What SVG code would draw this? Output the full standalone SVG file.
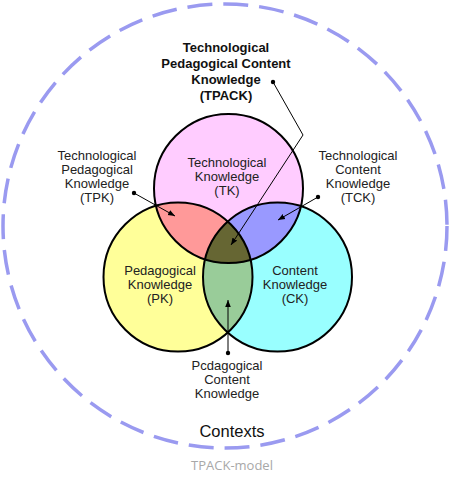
<svg xmlns="http://www.w3.org/2000/svg" width="475" height="480" viewBox="0 0 475 480">
<style>
.lbl{font-family:"Liberation Sans",Arial,sans-serif;font-size:13px;fill:#222;text-anchor:middle}
.ttl{font-family:"Liberation Sans",Arial,sans-serif;font-size:13px;font-weight:bold;fill:#111;text-anchor:middle}
.ring{fill:none;stroke:#000;stroke-width:2}
.lead{fill:none;stroke:#000;stroke-width:1}
.dot{fill:#000}
</style>
<defs>
<marker id="ah" viewBox="0 0 10 10" refX="10" refY="5" markerWidth="7" markerHeight="7" orient="auto" markerUnits="userSpaceOnUse">
<path d="M0,1 L10,5 L0,9 Z" fill="#000"/>
</marker>
<clipPath id="cT"><circle cx="228.5" cy="188.5" r="74.5"/></clipPath>
<clipPath id="cP"><circle cx="178" cy="277" r="74.5"/></clipPath>
<clipPath id="cC"><circle cx="277.5" cy="277" r="74.5"/></clipPath>
</defs>
<rect width="475" height="480" fill="#fff"/>
<g id="contexts">
<circle cx="225" cy="226" r="222" fill="none" stroke="#9a9af0" stroke-width="3.5" stroke-dasharray="25 11"/>
<text x="232" y="437" style="font-family:'Liberation Sans',Arial,sans-serif;font-size:16.5px;fill:#111;text-anchor:middle">Contexts</text>
</g>
<g id="pk"><circle cx="178" cy="277" r="74.5" fill="#ffff99"/></g>
<g id="ck"><circle cx="277.5" cy="277" r="74.5" fill="#99ffff"/></g>
<g id="tk"><circle cx="228.5" cy="188.5" r="74.5" fill="#ffccff"/></g>
<g id="tpk-region" clip-path="url(#cT)"><circle cx="178" cy="277" r="74.5" fill="#ff9999"/></g>
<g id="tck-region" clip-path="url(#cT)"><circle cx="277.5" cy="277" r="74.5" fill="#9999ff"/></g>
<g id="pck-region" clip-path="url(#cP)"><circle cx="277.5" cy="277" r="74.5" fill="#99cc99"/></g>
<g id="tpack-region" clip-path="url(#cT)"><g clip-path="url(#cP)"><circle cx="277.5" cy="277" r="74.5" fill="#666633"/></g></g>
<g id="outlines">
<circle class="ring" cx="178" cy="277" r="74.5"/>
<circle class="ring" cx="277.5" cy="277" r="74.5"/>
<circle class="ring" cx="228.5" cy="188.5" r="74.5"/>
</g>
<g id="tk-label">
<text class="lbl" x="227" y="167">Technological</text>
<text class="lbl" x="227" y="181">Knowledge</text>
<text class="lbl" x="227" y="195">(TK)</text>
</g>
<g id="pk-label">
<text class="lbl" x="160" y="275">Pedagogical</text>
<text class="lbl" x="160" y="289">Knowledge</text>
<text class="lbl" x="160" y="303">(PK)</text>
</g>
<g id="ck-label">
<text class="lbl" x="295" y="275">Content</text>
<text class="lbl" x="295" y="289">Knowledge</text>
<text class="lbl" x="295" y="303">(CK)</text>
</g>
<g id="tpack-label">
<text class="ttl" x="226" y="52">Technological</text>
<text class="ttl" x="226" y="68">Pedagogical Content</text>
<text class="ttl" x="226" y="84">Knowledge</text>
<text class="ttl" x="226" y="100">(TPACK)</text>
</g>
<g id="tpk-label">
<text class="lbl" x="97" y="160">Technological</text>
<text class="lbl" x="97" y="174">Pedagogical</text>
<text class="lbl" x="97" y="188">Knowledge</text>
<text class="lbl" x="97" y="202">(TPK)</text>
</g>
<g id="tck-label">
<text class="lbl" x="358" y="160">Technological</text>
<text class="lbl" x="358" y="174">Content</text>
<text class="lbl" x="358" y="188">Knowledge</text>
<text class="lbl" x="358" y="202">(TCK)</text>
</g>
<g id="pck-label">
<text class="lbl" x="227" y="370">Pcdagogical</text>
<text class="lbl" x="227" y="384">Content</text>
<text class="lbl" x="227" y="398">Knowledge</text>
</g>
<g id="connectors">
<polyline class="lead" points="273,82 303,135 231,245" marker-end="url(#ah)"/>
<circle class="dot" cx="273" cy="82" r="2.2"/>
<line class="lead" x1="134" y1="193" x2="175" y2="216" marker-end="url(#ah)"/>
<circle class="dot" cx="134" cy="193" r="2.2"/>
<line class="lead" x1="318" y1="197" x2="278" y2="220" marker-end="url(#ah)"/>
<circle class="dot" cx="318" cy="197" r="2.2"/>
<line class="lead" x1="228" y1="353" x2="228" y2="300" marker-end="url(#ah)"/>
<circle class="dot" cx="228" cy="353" r="2.2"/>
</g>
<text x="232" y="470" style="font-family:'Open Sans',sans-serif;font-size:13px;fill:#a8a8a8;text-anchor:middle">TPACK-model</text>
</svg>
